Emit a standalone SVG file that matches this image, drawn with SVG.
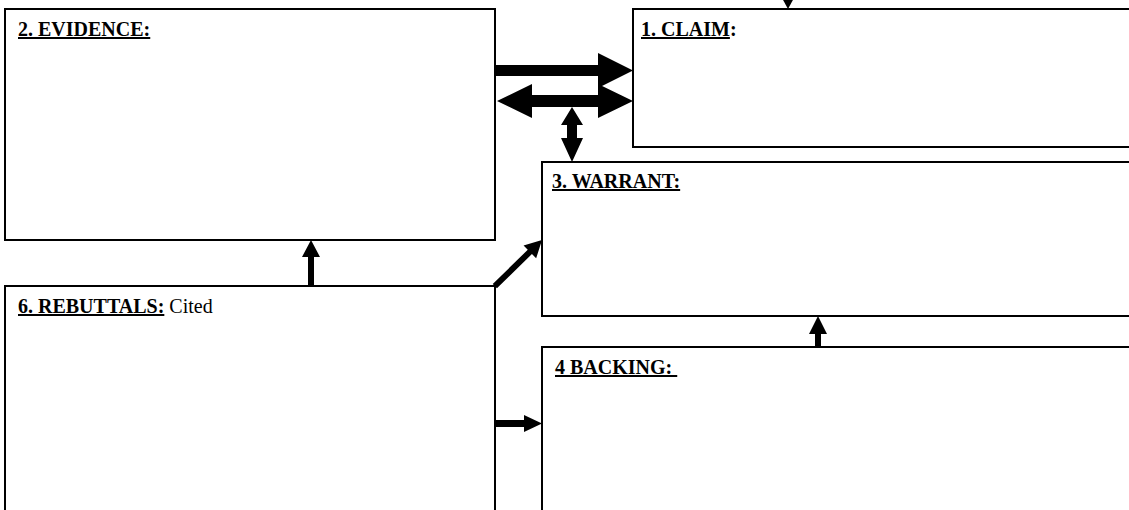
<svg xmlns="http://www.w3.org/2000/svg" width="1129" height="510" viewBox="0 0 1129 510">
<style>
.box{fill:#fff;stroke:#000;stroke-width:2}
.lbl{font-family:"Liberation Serif","Times New Roman",serif;font-size:20px;fill:#000}
.b{font-weight:bold}
.u{text-decoration:underline}
.arr{fill:#000;stroke:none}
</style>
<rect width="1129" height="510" fill="#fff"/>
<g id="evidence">
<rect class="box" x="5" y="9" width="490" height="231"/>
<text class="lbl" x="18" y="36"><tspan class="b u">2. EVIDENCE:</tspan></text>
</g>
<g id="claim">
<rect class="box" x="633" y="9" width="520" height="138"/>
<text class="lbl" x="641" y="36"><tspan class="b u">1. CLAIM</tspan><tspan class="b">:</tspan></text>
</g>
<g id="warrant">
<rect class="box" x="542" y="162" width="610" height="154"/>
<text class="lbl" x="552" y="188"><tspan class="b u">3. WARRANT:</tspan></text>
</g>
<g id="rebuttals">
<rect class="box" x="5" y="286" width="490" height="240"/>
<text class="lbl" x="18" y="313"><tspan class="b u">6. REBUTTALS:</tspan> Cited</text>
</g>
<g id="backing">
<rect class="box" x="542" y="347" width="610" height="180"/>
<text class="lbl" x="555" y="374" style="white-space:pre"><tspan class="b u">4 BACKING: </tspan></text>
</g>
<g id="connectors">
<polygon class="arr" points="782,-2 794,-2 788,9"/>
<polygon class="arr" points="495,65 598,65 598,53 633,70.5 598,88 598,76 495,76"/>
<polygon class="arr" points="497,101 532,84 532,95 598,95 598,84 633,101 598,118 598,107 532,107 532,118"/>
<polygon class="arr" points="572,107 583,125 577,125 577,138 583,138 572,162 561,138 567,138 567,125 561,125"/>
<polygon class="arr" points="311,240 320,257 314,257 314,286 308,286 308,257 302,257"/>
<polygon class="arr" transform="translate(542,240) rotate(-44.4)" points="0,0 -17,-9 -17,-3 -66,-3 -66,3 -17,3 -17,9"/>
<polygon class="arr" points="495,420 524,420 524,415 542,423.5 524,432 524,427 495,427"/>
<polygon class="arr" points="818,316 827,334 821,334 821,347 815,347 815,334 809,334"/>
</g>
</svg>
